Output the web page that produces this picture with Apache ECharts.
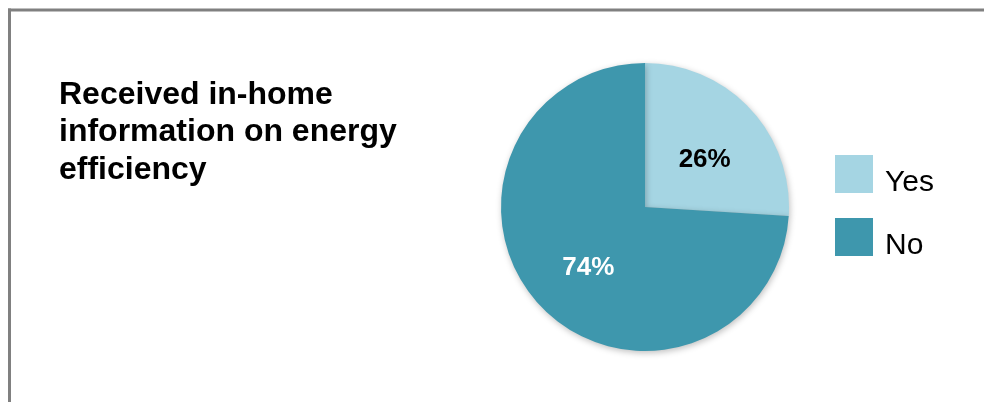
<!DOCTYPE html>
<html><head><meta charset="utf-8">
<script src="https://cdn.jsdelivr.net/npm/echarts@6/dist/echarts.min.js"></script>
<style>html,body{margin:0;padding:0;background:#fff}#c{width:984px;height:402px}</style>
</head><body><div id="c"></div>
<script>
const categories = ["Yes", "No"];
const values = [26, 74];
const colors = ["#A5D5E3", "#3E97AD"];
const labelColors = ["#000000", "#ffffff"];
const labelOffsets = [[5, 4], [-2, 9]];
const titleText = "Received in-home\ninformation on energy\nefficiency";

const chart = echarts.init(document.getElementById('c'), null, {renderer: 'canvas'});
chart.setOption({
  animation: false,
  backgroundColor: '#ffffff',
  title: {
    text: titleText, left: 54, top: 71,
    textStyle: {fontFamily: 'Liberation Sans', fontSize: 32, fontWeight: 'bold', color: '#000', lineHeight: 37.5}
  },
  legend: {
    orient: 'vertical', left: 830, top: 150, itemWidth: 38, itemHeight: 38, itemGap: 20,
    icon: 'rect', data: categories,
    formatter: '{t|{name}}',
    textStyle: {
      fontFamily: 'Liberation Sans', fontSize: 30, color: '#000', padding: [0, 0, 0, 7],
      rich: {t: {fontFamily: 'Liberation Sans', fontSize: 30, color: '#000', padding: [18, 0, 0, 0]}}
    }
  },
  graphic: [
    {type: 'line', shape: {x1: 8, y1: 10, x2: 984, y2: 10}, style: {stroke: '#808080', lineWidth: 3}, silent: true},
    {type: 'line', shape: {x1: 9.5, y1: 8.5, x2: 9.5, y2: 402}, style: {stroke: '#808080', lineWidth: 3}, silent: true}
  ],
  series: [{
    type: 'pie', center: [645, 207], radius: [0, 144], startAngle: 90, clockwise: true,
    label: {
      show: true, position: 'inside', fontFamily: 'Liberation Sans', fontSize: 26, fontWeight: 'bold',
      formatter: p => p.value + '%'
    },
    labelLine: {show: false},
    itemStyle: {shadowBlur: 6, shadowColor: 'rgba(0,0,0,0.25)', shadowOffsetX: 1, shadowOffsetY: 2},
    emphasis: {disabled: true},
    data: categories.map((c, i) => ({
      name: c, value: values[i],
      itemStyle: {color: colors[i]},
      label: {color: labelColors[i], offset: labelOffsets[i]}
    }))
  }]
});
</script></body></html>
